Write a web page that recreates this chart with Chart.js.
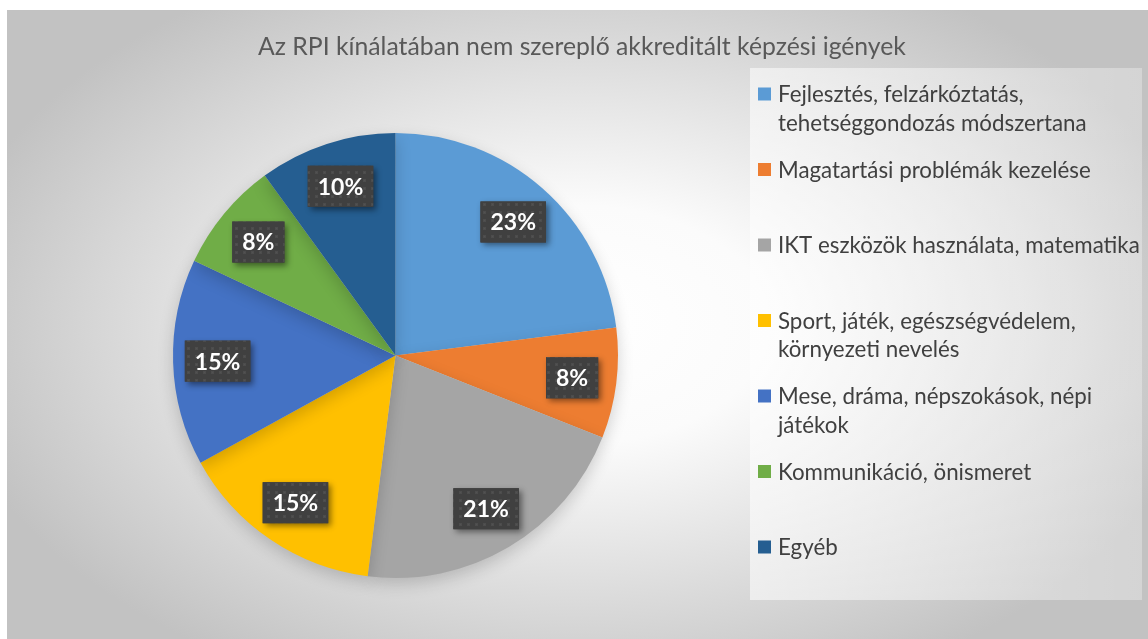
<!DOCTYPE html>
<html><head><meta charset="utf-8">
<script src="https://cdn.jsdelivr.net/npm/chart.js@4/dist/chart.umd.min.js"></script>
<style>html,body{margin:0;padding:0;background:#fff;overflow:hidden}</style>
</head><body>
<canvas id="c" width="1148" height="639"></canvas>
<script>
const chartTitle = 'Az RPI kínálatában nem szereplő akkreditált képzési igények';
const categories = [
  ['Fejlesztés, felzárkóztatás,', 'tehetséggondozás módszertana'],
  ['Magatartási problémák kezelése'],
  ['IKT eszközök használata, matematika'],
  ['Sport, játék, egészségvédelem,', 'környezeti nevelés'],
  ['Mese, dráma, népszokások, népi', 'játékok'],
  ['Kommunikáció, önismeret'],
  ['Egyéb']
];
const values = [23, 8, 21, 15, 15, 8, 10];
const colors = ['#5B9BD5', '#ED7D31', '#A5A5A5', '#FFC000', '#4472C4', '#70AD47', '#255E91'];

function makePattern(ctx) {
  const pc = document.createElement('canvas');
  pc.width = 8; pc.height = 8;
  const p = pc.getContext('2d');
  p.fillStyle = '#404040'; p.fillRect(0, 0, 8, 8);
  p.fillStyle = '#4c4c4c'; p.fillRect(3, 3, 3, 3);
  p.fillStyle = '#525252'; p.fillRect(4, 4, 1, 1);
  return ctx.createPattern(pc, 'repeat');
}

const bgPlugin = {
  id: 'bg',
  beforeDraw(chart) {
    const ctx = chart.ctx, W = chart.width, H = chart.height;
    ctx.save();
    ctx.fillStyle = '#ffffff'; ctx.fillRect(0, 0, W, H);
    const x0 = 7, y0 = 10, cx = (x0 + W) / 2, cy = (y0 + H) / 2;
    ctx.translate(cx, cy);
    ctx.scale(1, 0.62);
    const g = ctx.createRadialGradient(0, 0, 0, 0, 0, 640);
    g.addColorStop(0, '#ffffff');
    g.addColorStop(0.3, '#fbfbfb');
    g.addColorStop(1, '#c2c2c2');
    ctx.fillStyle = g;
    ctx.fillRect(x0 - cx, (y0 - cy) / 0.62, W - x0, (H - y0) / 0.62);
    ctx.restore();
    // legend panel
    ctx.save();
    const lg = ctx.createLinearGradient(750, 0, 1142, 0);
    lg.addColorStop(0, 'rgba(255,255,255,0.55)');
    lg.addColorStop(1, 'rgba(255,255,255,0.3)');
    ctx.fillStyle = lg;
    ctx.fillRect(750, 68, 392, 532);
    ctx.restore();
    // title
    ctx.save();
    ctx.font = '24px Lato';
    const tw = ctx.measureText(chartTitle).width;
    const fs = 24 * 648 / tw;
    ctx.font = fs.toFixed(2) + 'px Lato';
    ctx.fillStyle = '#595959';
    ctx.textAlign = 'center'; ctx.textBaseline = 'middle';
    ctx.fillText(chartTitle, 582, 47);
    ctx.restore();
  },
  beforeDatasetsDraw(chart) {
    const ctx = chart.ctx;
    ctx.save();
    ctx.shadowColor = 'rgba(0,0,0,0.18)';
    ctx.shadowBlur = 16;
    ctx.shadowOffsetY = 6;
  },
  afterDatasetsDraw(chart) {
    const ctx = chart.ctx;
    ctx.restore();
    const meta = chart.getDatasetMeta(0);
    const data = chart.data.datasets[0].data;
    const total = data.reduce((a, b) => a + b, 0);
    const pat = makePattern(ctx);
    meta.data.forEach((arc, i) => {
      const p = arc.getProps(['x', 'y', 'startAngle', 'endAngle', 'outerRadius']);
      const mid = (p.startAngle + p.endAngle) / 2;
      const r = p.outerRadius * 0.8;
      const cx = p.x + Math.cos(mid) * r, cy = p.y + Math.sin(mid) * r;
      const txt = Math.round(data[i] / total * 100) + '%';
      ctx.save();
      ctx.font = 'bold 23px Lato';
      const w = ctx.measureText(txt).width + 20, h = 41;
      ctx.shadowColor = 'rgba(0,0,0,0.45)';
      ctx.shadowBlur = 6; ctx.shadowOffsetX = 3; ctx.shadowOffsetY = 3;
      ctx.fillStyle = '#404040';
      ctx.fillRect(cx - w / 2, cy - h / 2, w, h);
      ctx.shadowColor = 'transparent';
      ctx.fillStyle = pat;
      ctx.fillRect(cx - w / 2, cy - h / 2, w, h);
      ctx.fillStyle = '#ffffff';
      ctx.textAlign = 'center'; ctx.textBaseline = 'middle';
      ctx.fillText(txt, cx, cy + 1);
      ctx.restore();
    });
  },
  afterDraw(chart) {
    const ctx = chart.ctx;
    const labels = chart.data.labels;
    const cols = chart.data.datasets[0].backgroundColor;
    ctx.save();
    ctx.font = '20px Lato';
    const ref = ctx.measureText('IKT eszközök használata, matematika').width;
    const fs = 20 * 362 / ref;
    ctx.font = fs.toFixed(2) + 'px Lato';
    ctx.textBaseline = 'middle';
    labels.forEach((lines, i) => {
      const y = 94 + i * 75.5;
      ctx.fillStyle = cols[i];
      ctx.fillRect(758, y - 6.5, 13, 13);
      ctx.fillStyle = '#404040';
      lines.forEach((ln, j) => ctx.fillText(ln, 778, y + 1 + j * 28.5));
    });
    ctx.restore();
  }
};

function build() {
  new Chart(document.getElementById('c'), {
    type: 'pie',
    data: {
      labels: categories,
      datasets: [{ data: values, backgroundColor: colors, borderWidth: 0 }]
    },
    options: {
      responsive: false,
      animation: false,
      devicePixelRatio: 1,
      layout: { padding: { left: 173, right: 530, top: 133, bottom: 61 } },
      plugins: { legend: { display: false }, tooltip: { enabled: false }, title: { display: false } }
    },
    plugins: [bgPlugin]
  });
}
if (document.fonts && document.fonts.load) {
  Promise.all([document.fonts.load('20px Lato'), document.fonts.load('bold 23px Lato')]).then(build, build);
} else build();
</script>
</body></html>
